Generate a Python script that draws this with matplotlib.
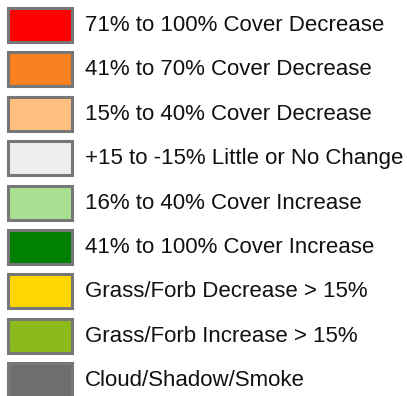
import matplotlib
matplotlib.use("Agg")
import matplotlib.pyplot as plt
from matplotlib.patches import Rectangle

labels = [
    "71% to 100% Cover Decrease",
    "41% to 70% Cover Decrease",
    "15% to 40% Cover Decrease",
    "+15 to -15% Little or No Change",
    "16% to 40% Cover Increase",
    "41% to 100% Cover Increase",
    "Grass/Forb Decrease > 15%",
    "Grass/Forb Increase > 15%",
    "Cloud/Shadow/Smoke",
]
colors = ["#FF0000", "#FA8020", "#FFBF7F", "#EEEEEE", "#A8E092",
          "#008000", "#FFD700", "#8CBA1A", "#6E6E6E"]

plt.rcParams['font.family'] = ['Liberation Sans', 'DejaVu Sans']
fig = plt.figure(figsize=(4.07, 3.96), dpi=100)
ax = fig.add_axes([0, 0, 1, 1])
ax.set_xlim(0, 407)
ax.set_ylim(396, 0)
ax.axis('off')

top0 = 8
step = 44.4
bh = 34
for i, (lab, c) in enumerate(zip(labels, colors)):
    y = top0 + i * step
    ax.add_patch(Rectangle((8, y), 64, bh, facecolor=c, edgecolor="#777777", linewidth=2.2))
    ax.text(85, y + bh / 2 + 0.5, lab, va='center', ha='left', fontsize=16, color='#111111')

fig.savefig("out.png", dpi=100)
